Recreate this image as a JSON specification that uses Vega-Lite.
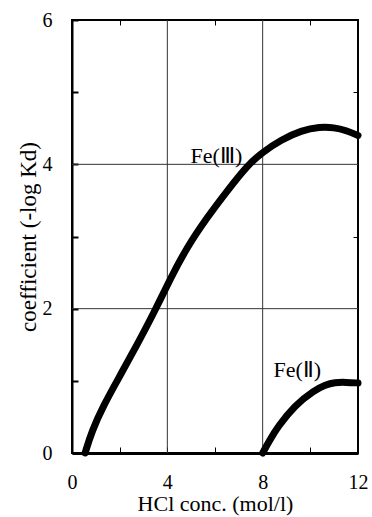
{
  "$schema": "https://vega.github.io/schema/vega-lite/v6.json",
  "autosize": "none",
  "padding": {"left": 72, "top": 20, "right": 14, "bottom": 64},
  "width": 286,
  "height": 433,
  "background": "white",
  "config": {
    "view": {"stroke": "black", "strokeWidth": 2},
    "font": "Liberation Serif, Times New Roman, serif",
    "axis": {"labelFont": "Liberation Serif, Times New Roman, serif", "titleFont": "Liberation Serif, Times New Roman, serif", "labelColor": "black", "titleColor": "black", "titleFontWeight": "normal", "tickColor": "black", "domainColor": "black", "grid": false}
  },
  "resolve": {"axis": {"x": "independent", "y": "independent"}},
  "layer": [
    {
      "data": {"values": [{"g": 4}, {"g": 8}]},
      "mark": {"type": "rule", "color": "#333", "strokeWidth": 1},
      "encoding": {"x": {"field": "g", "type": "quantitative", "scale": {"domain": [0, 12], "nice": false}, "axis": null}}
    },
    {
      "data": {"values": [{"g": 2}, {"g": 4}]},
      "mark": {"type": "rule", "color": "#333", "strokeWidth": 1},
      "encoding": {"y": {"field": "g", "type": "quantitative", "scale": {"domain": [0, 6], "nice": false}, "axis": null}}
    },
    {
      "data": {"values": [
        {"series": "Fe(III)", "c": 0.55, "k": 0},
        {"series": "Fe(III)", "c": 0.83, "k": 0.3},
        {"series": "Fe(III)", "c": 1.32, "k": 0.66},
        {"series": "Fe(III)", "c": 2.03, "k": 1.08},
        {"series": "Fe(III)", "c": 2.73, "k": 1.5},
        {"series": "Fe(III)", "c": 3.45, "k": 1.95},
        {"series": "Fe(III)", "c": 4.13, "k": 2.42},
        {"series": "Fe(III)", "c": 4.84, "k": 2.86},
        {"series": "Fe(III)", "c": 5.68, "k": 3.27},
        {"series": "Fe(III)", "c": 6.53, "k": 3.64},
        {"series": "Fe(III)", "c": 7.37, "k": 3.99},
        {"series": "Fe(III)", "c": 8.0, "k": 4.17},
        {"series": "Fe(III)", "c": 8.78, "k": 4.34},
        {"series": "Fe(III)", "c": 9.62, "k": 4.47},
        {"series": "Fe(III)", "c": 10.4, "k": 4.52},
        {"series": "Fe(III)", "c": 11.0, "k": 4.51},
        {"series": "Fe(III)", "c": 11.5, "k": 4.47},
        {"series": "Fe(III)", "c": 12.0, "k": 4.4},
        {"series": "Fe(II)", "c": 8.0, "k": 0},
        {"series": "Fe(II)", "c": 8.3, "k": 0.18},
        {"series": "Fe(II)", "c": 8.63, "k": 0.36},
        {"series": "Fe(II)", "c": 9.34, "k": 0.66},
        {"series": "Fe(II)", "c": 10.18, "k": 0.87},
        {"series": "Fe(II)", "c": 10.6, "k": 0.94},
        {"series": "Fe(II)", "c": 11.03, "k": 0.98},
        {"series": "Fe(II)", "c": 11.5, "k": 0.98},
        {"series": "Fe(II)", "c": 12.0, "k": 0.97}
      ]},
      "mark": {"type": "line", "color": "black", "strokeWidth": 7, "strokeCap": "round", "interpolate": "basis"},
      "encoding": {
        "detail": {"field": "series"},
        "x": {"field": "c", "type": "quantitative", "scale": {"domain": [0, 12], "nice": false},
          "axis": {"orient": "bottom", "values": [0, 2, 4, 6, 8, 10, 12], "labelExpr": "datum.value % 4 == 0 ? datum.label : ''", "tickSize": -6, "tickWidth": 1, "labelPadding": 25, "labelFontSize": 20, "labelFlush": false, "labelOverlap": false, "domainWidth": 3, "title": "HCl conc. (mol/l)", "titleFontSize": 22, "titlePadding": 1}},
        "y": {"field": "k", "type": "quantitative", "scale": {"domain": [0, 6], "nice": false},
          "axis": {"orient": "left", "values": [0, 1, 2, 3, 4, 5, 6], "labelExpr": "datum.value % 2 == 0 ? datum.label : ''", "tickSize": -6, "tickWidth": 2, "labelPadding": 26, "labelFontSize": 20, "labelFlush": false, "labelOverlap": false, "labelBaseline": "middle", "domainWidth": 2, "title": "coefficient (-log Kd)", "titleFontSize": 23, "titlePadding": 2}}
      }
    },
    {
      "data": {"values": [
        {"label": "Fe(Ⅲ)", "c": 6.06, "k": 4.11},
        {"label": "Fe(Ⅱ)", "c": 9.45, "k": 1.15}
      ]},
      "mark": {"type": "text", "font": "Liberation Serif", "fontSize": 22, "color": "black", "align": "center", "baseline": "middle"},
      "encoding": {
        "text": {"field": "label"},
        "x": {"field": "c", "type": "quantitative", "scale": {"domain": [0, 12], "nice": false},
          "axis": {"orient": "top", "values": [2, 6, 10], "labels": false, "tickSize": -5, "tickWidth": 1, "domain": false, "title": null}},
        "y": {"field": "k", "type": "quantitative", "scale": {"domain": [0, 6], "nice": false},
          "axis": {"orient": "right", "values": [1, 3, 5], "labels": false, "tickSize": -5, "tickWidth": 1, "domain": false, "title": null}}
      }
    }
  ]
}
